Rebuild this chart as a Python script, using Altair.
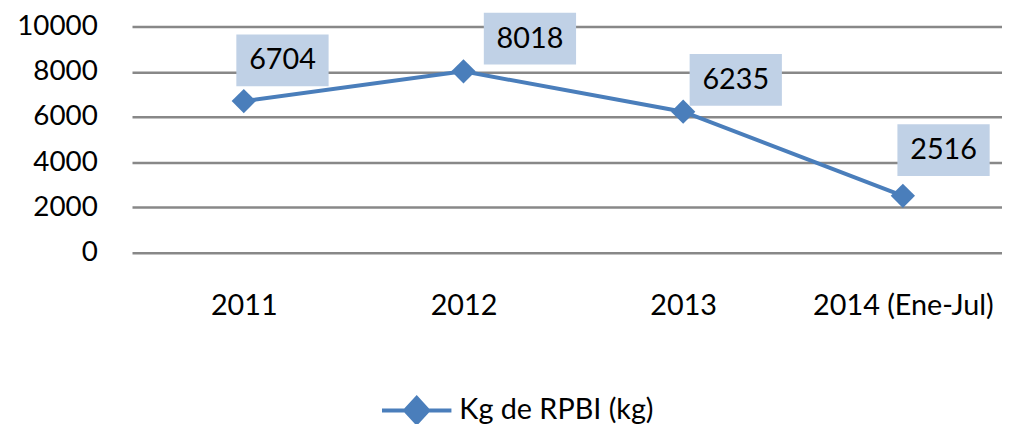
import altair as alt
import pandas as pd

years = ["2011", "2012", "2013", "2014 (Ene-Jul)"]
values = [6704, 8018, 6235, 2516]
series_name = "Kg de RPBI (kg)"
y_ticks = [0, 2000, 4000, 6000, 8000, 10000]

df = pd.DataFrame({"year": years, "kg": values, "serie": [series_name] * len(years)})

# label box offsets (style) per category, in pixels
label_offsets = {"2011": (39, -41), "2012": (67, -33), "2013": (53, -32), "2014 (Ene-Jul)": (41, -46)}

FONT = "Lato"
LINE_COLOR = "#4A7EBB"
BOX_COLOR = "#C0D1E6"

x_enc = alt.X("year:N", sort=years, title=None,
              scale=alt.Scale(type="point", padding=0.48, align=0.53),
              axis=alt.Axis(labelAngle=0, labelFontSize=29, labelFont=FONT, labelColor="#000000",
                            domain=False, ticks=False, labelPadding=39, grid=False, labelLimit=0))
y_enc = alt.Y("kg:Q", title=None,
              scale=alt.Scale(domain=[0, 10000], nice=False),
              axis=alt.Axis(values=y_ticks, format="d", labelFontSize=28, labelFont=FONT,
                            labelColor="#000000", domain=False, ticks=False, labelPadding=35,
                            grid=True, gridColor="#888888", gridWidth=2.5))

legend_shape = "M-1,0L1,0M-0.33,0L0,-0.36L0.33,0L0,0.36Z"

line = alt.Chart(df).mark_line(
    strokeWidth=4,
    point=alt.OverlayMarkDef(shape="diamond", size=600, filled=True, color=LINE_COLOR),
).encode(
    x=x_enc, y=y_enc,
    color=alt.Color("serie:N", scale=alt.Scale(domain=[series_name], range=[LINE_COLOR]),
                    legend=alt.Legend(title=None, orient="none", legendX=250, legendY=350,
                                      symbolType=legend_shape, symbolSize=4900,
                                      symbolStrokeWidth=4, symbolFillColor=LINE_COLOR,
                                      symbolStrokeColor=LINE_COLOR, labelLimit=0,
                                      labelFontSize=29, labelFont=FONT, labelColor="#000000",
                                      labelOffset=6, padding=0)),
)

layers = []
box_shape = "M-1,-0.56L1,-0.56L1,0.56L-1,0.56Z"
for yr in years:
    dx, dy = label_offsets[yr]
    sub = alt.Chart(df).transform_filter(alt.datum.year == yr)
    box = sub.mark_point(shape=box_shape, size=93 * 93, filled=True, fill=BOX_COLOR,
                         opacity=1, strokeWidth=0, xOffset=dx, yOffset=dy).encode(
        x=alt.X("year:N", sort=years), y="kg:Q")
    txt = sub.mark_text(fontSize=29, font=FONT, color="#000000", dx=dx, dy=dy,
                        baseline="middle", align="center").encode(
        x=alt.X("year:N", sort=years), y="kg:Q", text=alt.Text("kg:Q", format="d"))
    layers += [box, txt]

chart = alt.layer(line, *layers).properties(
    width=877, height=228,
    padding={"left": 125, "top": 17, "right": 0, "bottom": 171},
    autosize=alt.AutoSizeParams(type="none"),
).configure_view(stroke=None)

chart.save("out.html", embed_options={"renderer": "svg", "actions": False})
